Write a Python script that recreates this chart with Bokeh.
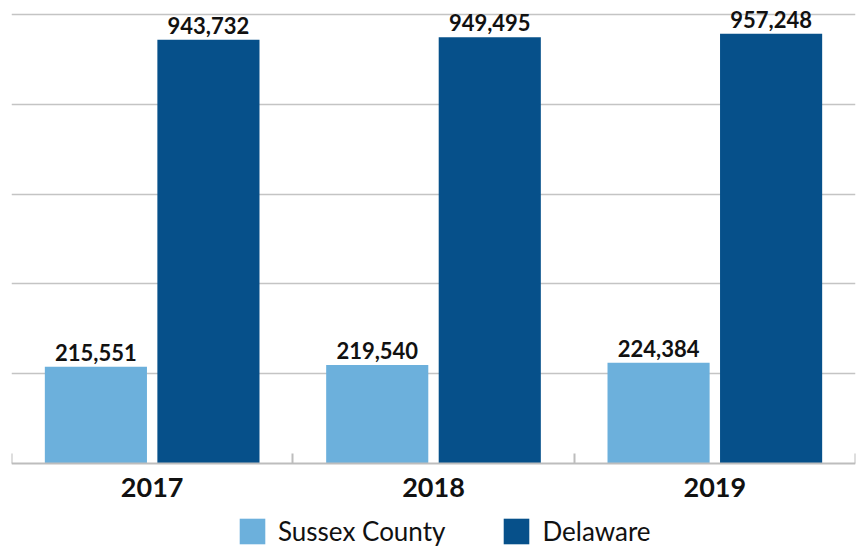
import numpy as np
from bokeh.plotting import figure
from bokeh.models import (ColumnDataSource, Range1d, FixedTicker, LinearAxis,
                          Legend, LegendItem, LabelSet, Grid)
from bokeh.core.properties import value
from bokeh.embed import file_html
from bokeh.resources import INLINE

years = ["2017", "2018", "2019"]
sussex = [215551, 219540, 224384]
delaware = [943732, 949495, 957248]
series_names = ["Sussex County", "Delaware"]
colors = ["#6CB0DC", "#06508A"]
grid_ticks = [200000, 400000, 600000, 800000, 1000000]

centers = np.arange(len(years)) + 0.5
src_s = ColumnDataSource(dict(x=centers - 0.2, top=sussex,
                              lab=[f"{v:,}" for v in sussex]))
src_d = ColumnDataSource(dict(x=centers + 0.2, top=delaware,
                              lab=[f"{v:,}" for v in delaware]))

# plot area spans the whole page height; value 0 sits 88px above the bottom
px_per_unit = 449 / 1000000
y_top = 463 / px_per_unit
y_bottom = -88 / px_per_unit
p = figure(frame_width=844, frame_height=551, output_backend="svg",
           toolbar_location=None,
           x_range=Range1d(0, len(years)), y_range=Range1d(y_bottom, y_top),
           x_axis_type=None, y_axis_type=None,
           min_border_left=11, min_border_right=3, min_border_top=0,
           min_border_bottom=0)
p.outline_line_color = None
p.background_fill_color = "white"
p.border_fill_color = "white"

xt = FixedTicker(ticks=list(centers), minor_ticks=list(range(len(years) + 1)))
xa = LinearAxis(ticker=xt, fixed_location=0,
                major_label_overrides={float(c): y for c, y in zip(centers, years)})
xa.axis_line_color = "#bdbdbd"
xa.axis_line_width = 2
xa.major_tick_line_color = None
xa.minor_tick_in = 10
xa.minor_tick_out = 0
xa.minor_tick_line_color = "#bdbdbd"
xa.minor_tick_line_width = 2
xa.major_label_text_font = "Lato"
xa.major_label_text_font_style = "bold"
xa.major_label_text_font_size = "27px"
xa.major_label_text_color = "#111111"
xa.major_label_standoff = 8
p.add_layout(xa, "below")

g = Grid(dimension=1, ticker=FixedTicker(ticks=grid_ticks))
g.grid_line_color = "#c4c4c4"
g.grid_line_width = 1.5
p.add_layout(g)

r1 = p.vbar(x="x", top="top", width=0.363, source=src_s,
            fill_color=colors[0], line_color=None)
r2 = p.vbar(x="x", top="top", width=0.363, source=src_d,
            fill_color=colors[1], line_color=None)

for src in (src_s, src_d):
    lbl = LabelSet(x="x", y="top", text="lab", source=src,
                   text_align="center", text_baseline="alphabetic",
                   y_offset=6, text_font=value("Lato"),
                   text_font_style=value("bold"),
                   text_font_size=value("22px"), text_color=value("#111111"))
    p.add_layout(lbl)

legend = Legend(items=[LegendItem(label=series_names[0], renderers=[r1]),
                       LegendItem(label=series_names[1], renderers=[r2])],
                orientation="horizontal", location=(225, 4),
                glyph_width=32, glyph_height=32, label_standoff=10,
                spacing=55, padding=0, margin=0,
                label_text_font="Lato", label_text_font_size="26px",
                label_text_color="#111111", border_line_color=None,
                background_fill_alpha=0)
p.add_layout(legend)

open("out.html", "w").write(file_html(p, INLINE))
